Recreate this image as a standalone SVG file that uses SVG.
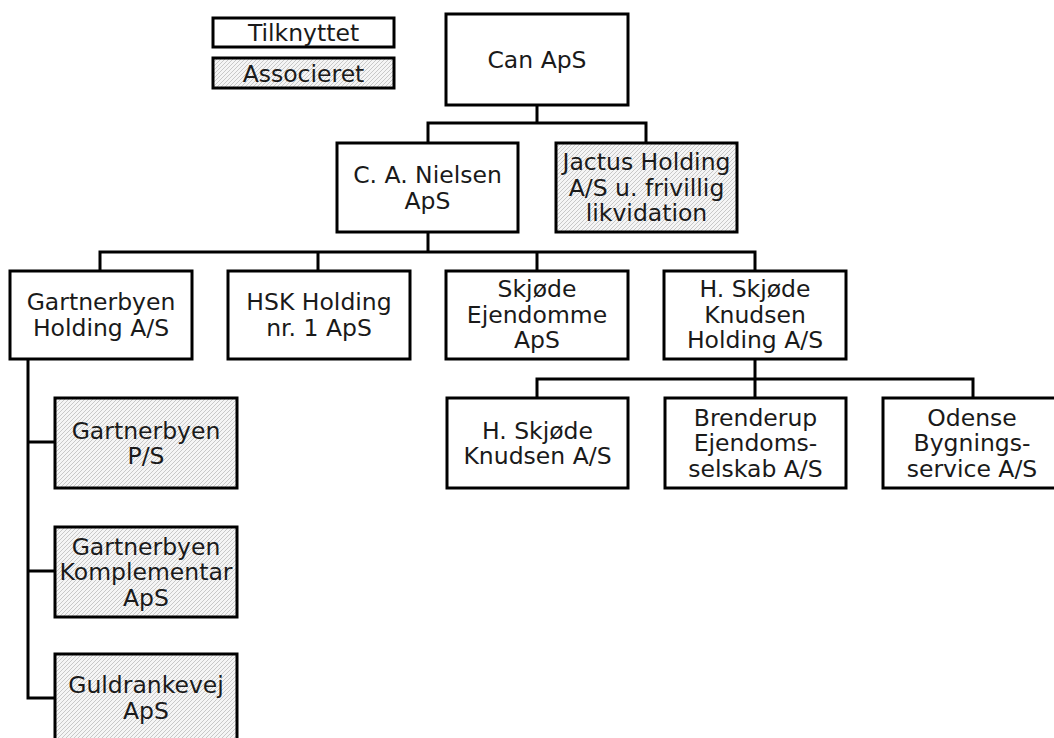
<svg xmlns="http://www.w3.org/2000/svg" width="1054" height="738" viewBox="0 0 1054 738">
  <defs>
    <pattern id="hatch" width="4" height="4" patternUnits="userSpaceOnUse">
      <rect width="4" height="4" fill="#f5f5f5"/>
      <path d="M-1,1 L1,-1 M0,4 L4,0 M3,5 L5,3" stroke="#b4b4b4" stroke-width="0.7"/>
    </pattern>
    <style>
      .box { fill: #ffffff; stroke: #000000; stroke-width: 3; }
      .assoc { fill: url(#hatch); stroke: #000000; stroke-width: 3; }
      .lbl { font-family: "DejaVu Sans", "Liberation Sans", sans-serif; font-size: 23.5px; fill: #1a1a1a; text-anchor: middle; }
      .conn { fill: none; stroke: #000000; stroke-width: 3; stroke-linecap: square; stroke-linejoin: miter; }
    </style>
  </defs>
  <rect width="1054" height="738" fill="#ffffff"/>

  <g id="connectors">
    <path class="conn" d="M537,105 V123 M428,123 H646 M428,123 V143 M646,123 V143"/>
    <path class="conn" d="M428,232 V252 M100,252 H755 M100,252 V271 M318,252 V271 M537,252 V271 M755,252 V271"/>
    <path class="conn" d="M755,359 V379 M537,379 H973 M537,379 V398 M755,379 V398 M973,379 V398"/>
    <path class="conn" d="M28,359 V698 M28,442 H55 M28,571 H55 M28,698 H55"/>
  </g>

  <g id="legend-tilknyttet">
    <rect class="box" x="213" y="18" width="181" height="29"/>
    <text class="lbl" x="303.5" y="41">Tilknyttet</text>
  </g>
  <g id="legend-associeret">
    <rect class="assoc" x="213" y="58" width="181" height="30"/>
    <text class="lbl" x="303.5" y="81.5">Associeret</text>
  </g>

  <g id="can-aps">
    <rect class="box" x="446" y="14" width="182" height="91"/>
    <text class="lbl" x="537" y="68">Can ApS</text>
  </g>

  <g id="ca-nielsen">
    <rect class="box" x="337" y="143" width="181" height="89"/>
    <text class="lbl" x="427.5" y="183">C. A. Nielsen</text>
    <text class="lbl" x="427.5" y="208.5">ApS</text>
  </g>
  <g id="jactus-holding">
    <rect class="assoc" x="556" y="143" width="181" height="89"/>
    <text class="lbl" x="646.5" y="170">Jactus Holding</text>
    <text class="lbl" x="646.5" y="195.5">A/S u. frivillig</text>
    <text class="lbl" x="646.5" y="221">likvidation</text>
  </g>

  <g id="gartnerbyen-holding">
    <rect class="box" x="10" y="271" width="182" height="88"/>
    <text class="lbl" x="101" y="310">Gartnerbyen</text>
    <text class="lbl" x="101" y="335.5">Holding A/S</text>
  </g>
  <g id="hsk-holding">
    <rect class="box" x="228" y="271" width="182" height="88"/>
    <text class="lbl" x="319" y="310">HSK Holding</text>
    <text class="lbl" x="319" y="335.5">nr. 1 ApS</text>
  </g>
  <g id="skjode-ejendomme">
    <rect class="box" x="446" y="271" width="182" height="88"/>
    <text class="lbl" x="537" y="297">Skjøde</text>
    <text class="lbl" x="537" y="322.5">Ejendomme</text>
    <text class="lbl" x="537" y="348">ApS</text>
  </g>
  <g id="hsk-knudsen-holding">
    <rect class="box" x="664" y="271" width="182" height="88"/>
    <text class="lbl" x="755" y="297">H. Skjøde</text>
    <text class="lbl" x="755" y="322.5">Knudsen</text>
    <text class="lbl" x="755" y="348">Holding A/S</text>
  </g>

  <g id="hsk-knudsen">
    <rect class="box" x="447" y="398" width="181" height="90"/>
    <text class="lbl" x="537.5" y="438.5">H. Skjøde</text>
    <text class="lbl" x="537.5" y="464">Knudsen A/S</text>
  </g>
  <g id="brenderup">
    <rect class="box" x="665" y="398" width="181" height="90"/>
    <text class="lbl" x="755.5" y="425.5">Brenderup</text>
    <text class="lbl" x="755.5" y="451">Ejendoms-</text>
    <text class="lbl" x="755.5" y="476.5">selskab A/S</text>
  </g>
  <g id="odense">
    <rect class="box" x="883" y="398" width="182" height="90"/>
    <text class="lbl" x="972" y="425.5">Odense</text>
    <text class="lbl" x="972" y="451">Bygnings-</text>
    <text class="lbl" x="972" y="476.5">service A/S</text>
  </g>

  <g id="gartnerbyen-ps">
    <rect class="assoc" x="55" y="398" width="182" height="90"/>
    <text class="lbl" x="146" y="438.5">Gartnerbyen</text>
    <text class="lbl" x="146" y="464">P/S</text>
  </g>
  <g id="gartnerbyen-komplementar">
    <rect class="assoc" x="55" y="527" width="182" height="90"/>
    <text class="lbl" x="146" y="554.5">Gartnerbyen</text>
    <text class="lbl" x="146" y="580">Komplementar</text>
    <text class="lbl" x="146" y="605.5">ApS</text>
  </g>
  <g id="guldrankevej">
    <rect class="assoc" x="55" y="654" width="182" height="90"/>
    <text class="lbl" x="146" y="693">Guldrankevej</text>
    <text class="lbl" x="146" y="718.5">ApS</text>
  </g>
</svg>
